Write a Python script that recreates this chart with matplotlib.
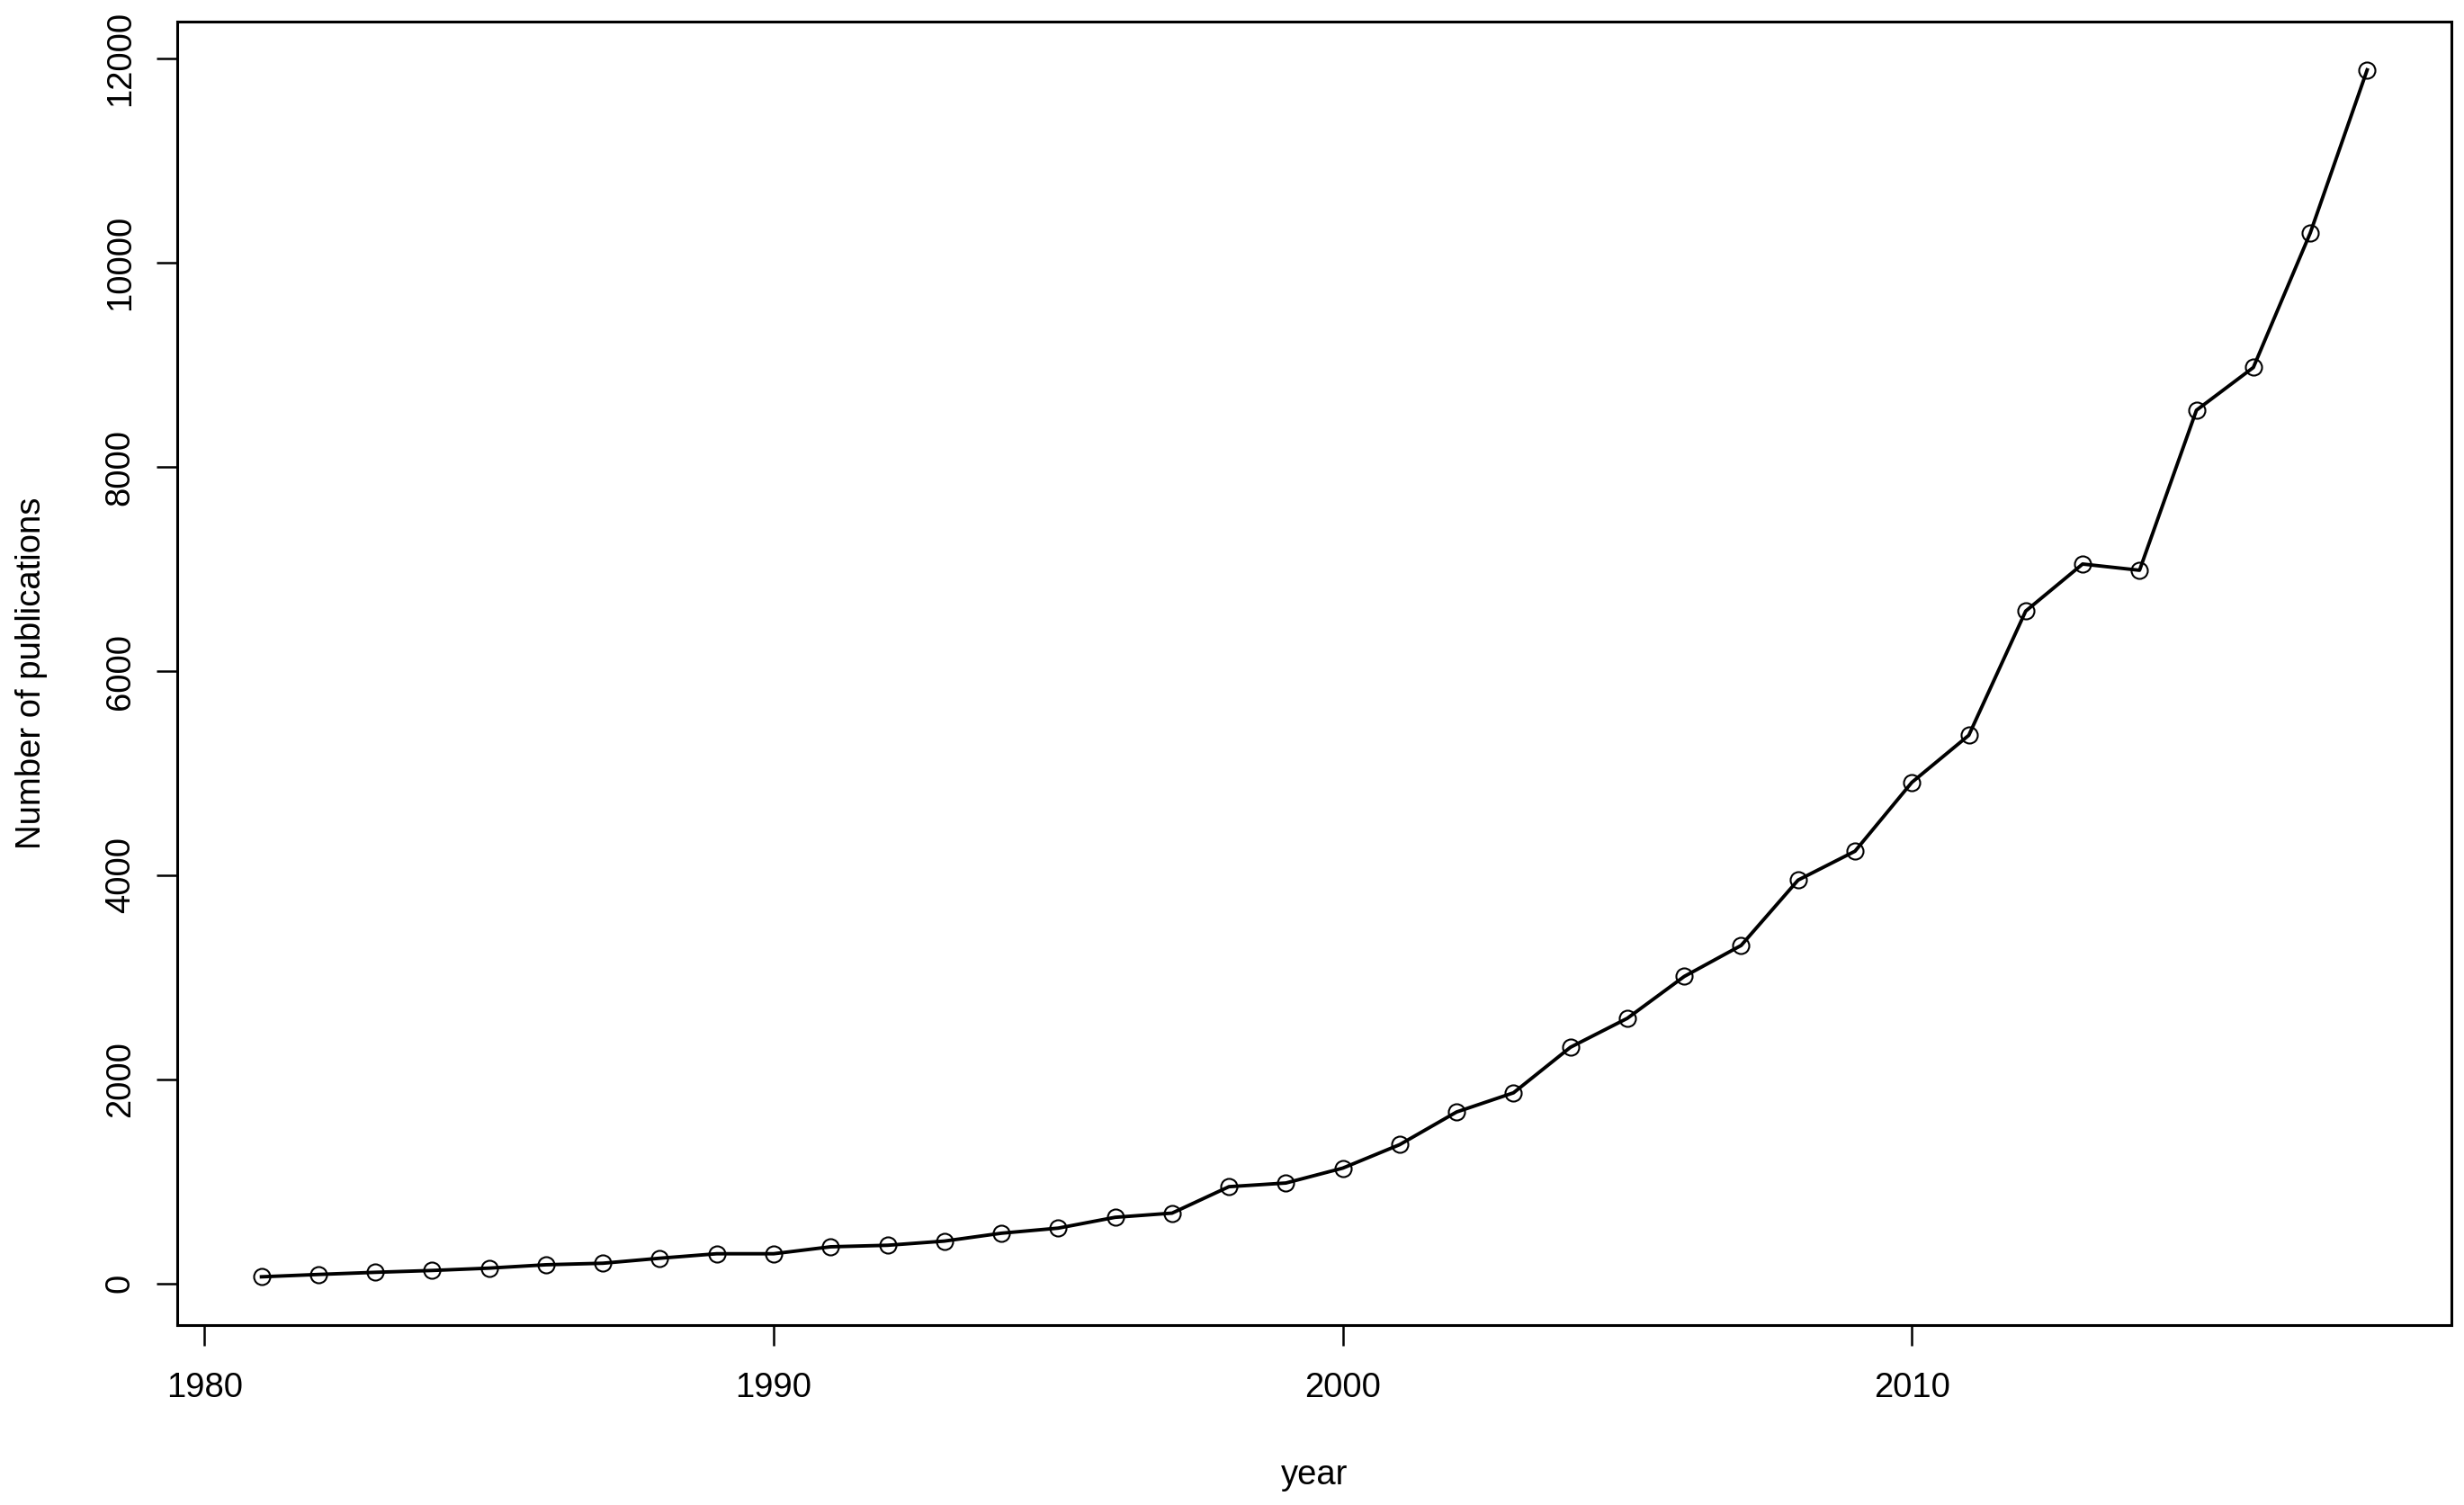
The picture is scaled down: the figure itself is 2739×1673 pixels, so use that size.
import numpy as np
from matplotlib import pyplot as plt

# publications per year
years = list(range(1981, 2019))
publications = [65, 88, 109, 127, 150, 183, 198, 247, 291, 291,
                359, 374, 415, 492, 542, 648, 689, 948, 984, 1130,
                1360, 1680, 1868, 2314, 2598, 3008, 3312, 3952, 4235, 4910,
                5371, 6588, 7049, 6988, 8556, 8975, 10293, 11891]

x_ticks = [1980, 1990, 2000, 2010]
y_ticks = [0, 2000, 4000, 6000, 8000, 10000, 12000]

plt.rcParams['font.family'] = ['Liberation Sans', 'DejaVu Sans']

W, H = 2739, 1673
fig = plt.figure(figsize=(W / 100, H / 100), dpi=100)

# plot box in pixels (R style base graphics)
left, right, top, bottom = 197, 2725, 24, 1473
ax = fig.add_axes([left / W, (H - bottom) / H, (right - left) / W, (bottom - top) / H])

ax.plot(years, publications, color='black', linewidth=2.8,
        marker='o', markersize=13, markerfacecolor='none',
        markeredgecolor='black', markeredgewidth=1.5)

# R-like 4% axis expansion
xr = max(years) - min(years)
ax.set_xlim(min(years) - 0.04 * xr, max(years) + 0.04 * xr)
yr = max(publications) - min(publications)
ax.set_ylim(min(publications) - 0.04 * yr, max(publications) + 0.04 * yr)

ax.set_xticks(x_ticks)
ax.set_yticks(y_ticks)
ax.set_yticklabels([str(v) for v in y_ticks], rotation=90, va='center')

fs = 27.5
ax.tick_params(axis='both', direction='out', length=16.5, width=1.8,
               labelsize=fs, color='black')
ax.tick_params(axis='x', pad=21)
ax.tick_params(axis='y', pad=16)

for side in ax.spines.values():
    side.set_linewidth(2.2)
    side.set_color('black')

ax.set_xlabel('year', fontsize=fs, va='center')
ax.xaxis.set_label_coords(0.5, -0.1153)
ax.set_ylabel('Number of publications', fontsize=fs, va='center')
ax.yaxis.set_label_coords(-0.064, 0.5)

plt.savefig('out.png', dpi=100)
